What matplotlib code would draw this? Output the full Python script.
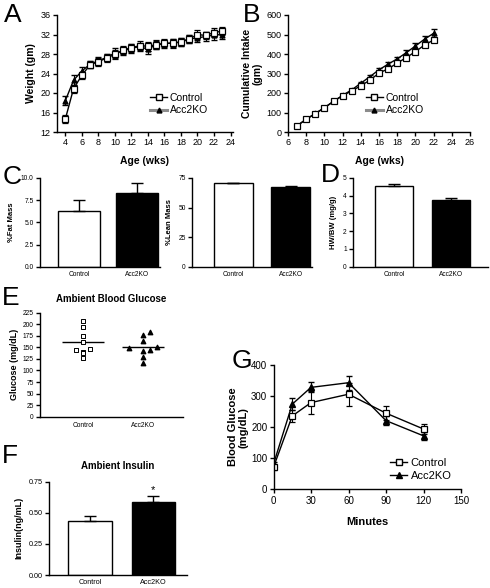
import numpy as np
import matplotlib.pyplot as plt
from matplotlib.lines import Line2D

plt.rcParams['font.family'] = ['Liberation Sans', 'DejaVu Sans']

# --- data ---
groups = ['Control', 'Acc2KO']

# A: body weight
weeks_a = [4, 5, 6, 7, 8, 9, 10, 11, 12, 13, 14, 15, 16, 17, 18, 19, 20, 21, 22, 23]
wt_ctrl = [14.6, 20.9, 23.6, 25.8, 26.4, 27.2, 27.9, 28.8, 29.3, 29.7, 29.6, 29.9, 30.2, 30.2, 30.5, 31.1, 32.0, 31.8, 32.4, 32.7]
wt_ctrl_err = [0.8, 0.8, 0.8, 0.7, 0.8, 0.8, 0.9, 0.9, 0.8, 0.9, 0.9, 0.9, 0.8, 0.9, 0.8, 0.8, 0.9, 0.8, 0.9, 0.9]
wt_ko = [18.4, 22.6, 24.5, 25.9, 26.6, 27.3, 28.2, 28.6, 29.2, 29.5, 29.0, 29.9, 30.1, 30.3, 30.4, 31.1, 31.3, 31.6, 31.9, 32.0]
wt_ko_err = [0.9, 1.0, 0.8, 0.7, 0.8, 0.8, 1.0, 0.9, 0.9, 0.8, 0.9, 0.8, 0.8, 0.8, 0.8, 0.9, 0.9, 0.9, 1.0, 1.0]

# B: cumulative intake
weeks_b = [7, 8, 9, 10, 11, 12, 13, 14, 15, 16, 17, 18, 19, 20, 21, 22]
intake_ctrl = [32, 66, 94, 124, 157, 186, 211, 237, 266, 302, 324, 353, 382, 412, 446, 472]
intake_ctrl_err = [3, 3, 4, 4, 5, 5, 6, 6, 7, 8, 8, 9, 10, 10, 11, 12]
intake_ko = [32, 65, 95, 125, 157, 188, 216, 250, 284, 319, 348, 375, 407, 441, 476, 506]
intake_ko_err = [3, 3, 4, 4, 5, 5, 6, 7, 8, 10, 11, 12, 13, 15, 17, 20]

# C: body composition
fat_mass = [6.3, 8.3]
fat_err = [1.2, 1.1]
lean_mass = [70.5, 67.7]
lean_err = [0.6, 0.7]

# D: heart weight / body weight
hw_bw = [4.55, 3.77]
hw_bw_err = [0.12, 0.12]

# E: ambient blood glucose (individual animals)
gluc_ctrl = [208, 193, 174, 161, 145, 141, 146, 137, 126]
gluc_ctrl_dx = [0, 0, 0, 0, -0.12, 0, 0.12, 0, 0]
gluc_ko = [184, 177, 164, 148, 143, 144, 150, 130, 117]
gluc_ko_dx = [0.12, 0, 0, -0.24, 0, 0.12, 0.24, 0, 0]
gluc_mean = [161, 150]

# F: ambient insulin
insulin = [0.435, 0.585]
insulin_err = [0.035, 0.045]

# G: glucose tolerance test
gtt_min = [0, 15, 30, 60, 90, 120]
gtt_ctrl = [71, 236, 279, 306, 245, 194]
gtt_ctrl_err = [8, 19, 37, 37, 22, 17]
gtt_ko = [81, 274, 328, 343, 221, 172]
gtt_ko_err = [8, 20, 16, 23, 14, 14]

W, H = 490, 588
fig = plt.figure(figsize=(W / 100, H / 100), dpi=100)


def px_axes(l, t, r, b):
    ax = fig.add_axes([l / W, 1 - b / H, (r - l) / W, (b - t) / H])
    for s in ['top', 'right']:
        ax.spines[s].set_visible(False)
    for s in ['left', 'bottom']:
        ax.spines[s].set_linewidth(1.0)
    ax.tick_params(direction='out', length=3, width=1, pad=1.5)
    return ax


def letter(x, y, s):
    fig.text(x / W, 1 - y / H, s, fontsize=19, va='top', ha='left')


bold = dict(fontweight='bold')

# --- A ---
ax = px_axes(57, 15, 233, 132)
ax.errorbar(weeks_a, wt_ko, yerr=wt_ko_err, color='black', marker='^', ms=3.5,
            mfc='black', lw=1, capsize=2, elinewidth=0.8)
ax.errorbar(weeks_a, wt_ctrl, yerr=wt_ctrl_err, color='black', marker='s', ms=3.8,
            mfc='white', mec='black', mew=0.9, lw=1, capsize=2, elinewidth=0.8)
ax.set_xlim(3, 24.3)
ax.set_ylim(12, 36)
ax.set_xticks(range(4, 25, 2))
ax.set_yticks(range(12, 37, 4))
ax.tick_params(labelsize=6.5)
ax.set_xlabel('Age (wks)', fontsize=7.5, labelpad=6, **bold)
ax.set_ylabel('Weight (gm)', fontsize=7.5, labelpad=3, **bold)
h_ctrl = Line2D([], [], color='black', lw=1, marker='s', ms=3.8, mfc='white', mec='black')
h_ko = Line2D([], [], color='0.55', lw=2.2, marker='^', ms=3.5, mfc='black', mec='black')
ax.legend([h_ctrl, h_ko], groups, loc='upper left', bbox_to_anchor=(0.5, 0.38),
          frameon=False, fontsize=7.5, handlelength=1.6, handletextpad=0.3,
          labelspacing=0.25, borderpad=0)
letter(4, 3, 'A')

# --- B ---
ax = px_axes(288, 15, 470, 132)
ax.errorbar(weeks_b, intake_ko, yerr=intake_ko_err, color='black', marker='^', ms=3.5,
            mfc='black', lw=1, capsize=2, elinewidth=0.8)
ax.errorbar(weeks_b, intake_ctrl, yerr=intake_ctrl_err, color='black', marker='s', ms=3.8,
            mfc='white', mec='black', mew=0.9, lw=1, capsize=2, elinewidth=0.8)
ax.set_xlim(6, 26)
ax.set_ylim(0, 600)
ax.set_xticks(range(6, 27, 2))
ax.set_yticks(range(0, 601, 100))
ax.tick_params(labelsize=6.5)
ax.set_xlabel('Age (wks)', fontsize=7.5, labelpad=6, **bold)
ax.set_ylabel('Cumulative Intake\n(gm)', fontsize=7.5, labelpad=3, linespacing=1.0, **bold)
ax.legend([h_ctrl, h_ko], groups, loc='upper left', bbox_to_anchor=(0.4, 0.38),
          frameon=False, fontsize=7.5, handlelength=1.6, handletextpad=0.3,
          labelspacing=0.25, borderpad=0)
letter(243, 3, 'B')


def bar_panel(box, vals, errs, width, xlim, ylim, yticks, fmt, ylabel, fs=4.8):
    ax = px_axes(*box)
    x = np.arange(len(vals))
    ax.bar(x, vals, width=width, color=['white', 'black'], edgecolor='black', lw=1)
    ax.errorbar(x, vals, yerr=[[0] * len(vals), errs], fmt='none', ecolor='black',
                elinewidth=1, capsize=4, capthick=1)
    ax.set_xlim(*xlim)
    ax.set_ylim(*ylim)
    ax.set_xticks(x)
    ax.set_xticklabels(groups)
    ax.tick_params(axis='x', length=0, pad=3)
    ax.set_yticks(yticks)
    ax.set_yticklabels([fmt.format(v) for v in yticks])
    ax.tick_params(labelsize=fs)
    ax.set_ylabel(ylabel, fontsize=5.5, labelpad=4, **bold)
    return ax


# --- C ---
bar_panel((40, 178, 160, 266.7), fat_mass, fat_err, 0.72, (-0.67, 1.4), (0, 10),
          [0, 2.5, 5, 7.5, 10], '{:.1f}', '%Fat Mass')
bar_panel((192, 178, 312, 266.7), lean_mass, lean_err, 0.68, (-0.72, 1.37), (0, 75),
          [0, 25, 50, 75], '{:.0f}', '%Lean Mass')
letter(3, 165, 'C')

# --- D ---
bar_panel((353, 178, 488, 266.7), hw_bw, hw_bw_err, 0.67, (-0.72, 1.65), (0, 5),
          [0, 1, 2, 3, 4, 5], '{:.0f}', 'HW/BW (mg/g)')
letter(321, 163, 'D')

# --- E ---
ax = px_axes(40, 312.7, 183, 416.7)
ax.scatter(np.array(gluc_ctrl_dx), gluc_ctrl, marker='s', s=9, facecolor='white',
           edgecolor='black', lw=0.7, zorder=3)
ax.scatter(1 + np.array(gluc_ko_dx), gluc_ko, marker='^', s=10, color='black', zorder=3)
for i, m in enumerate(gluc_mean):
    ax.hlines(m, i - 0.35, i + 0.35, color='black', lw=1)
ax.set_xlim(-0.72, 1.67)
ax.set_ylim(0, 225)
ax.set_yticks(range(0, 226, 25))
ax.set_xticks([0, 1])
ax.set_xticklabels(groups)
ax.tick_params(axis='x', length=0, pad=4)
ax.tick_params(labelsize=4.8)
ax.set_ylabel('Glucose (mg/dL)', fontsize=6.5, labelpad=3, **bold)
ax.set_title('Ambient Blood Glucose', fontsize=7, pad=8, **bold)
letter(2, 286, 'E')

# --- F ---
ax = bar_panel((49, 481.5, 187, 575), insulin, insulin_err, 0.69, (-0.65, 1.53), (0, 0.75),
               [0, 0.25, 0.5, 0.75], '{:.2f}', 'Insulin(ng/mL)', fs=5.2)
ax.yaxis.label.set_size(6.5)
ax.text(1, insulin[1] + insulin_err[1] + 0.01, '*', ha='center', va='bottom', fontsize=8)
ax.set_title('Ambient Insulin', fontsize=7, pad=9, **bold)
letter(2, 444, 'F')

# --- G ---
ax = px_axes(273.5, 365, 461, 489.3)
ax.errorbar(gtt_min, gtt_ko, yerr=gtt_ko_err, color='black', marker='^', ms=4,
            mfc='black', lw=1, capsize=2.5, elinewidth=0.8)
ax.errorbar(gtt_min, gtt_ctrl, yerr=gtt_ctrl_err, color='black', marker='s', ms=4.2,
            mfc='white', mec='black', mew=0.9, lw=1, capsize=2.5, elinewidth=0.8)
ax.set_xlim(0, 150)
ax.set_ylim(0, 400)
ax.set_xticks(range(0, 151, 30))
ax.set_yticks(range(0, 401, 100))
ax.tick_params(labelsize=7)
ax.set_xlabel('Minutes', fontsize=8, labelpad=8, **bold)
ax.set_ylabel('Blood Glucose\n(mg/dL)', fontsize=8, labelpad=2, linespacing=1.0, **bold)
h_ctrl_g = Line2D([], [], color='black', lw=1, marker='s', ms=4.2, mfc='white', mec='black')
h_ko_g = Line2D([], [], color='black', lw=1, marker='^', ms=4, mfc='black')
ax.legend([h_ctrl_g, h_ko_g], groups, loc='lower right', bbox_to_anchor=(0.98, 0.02),
          frameon=False, fontsize=8, handlelength=1.6, handletextpad=0.3,
          labelspacing=0.3, borderpad=0)
letter(232, 349, 'G')

fig.savefig('out.png', dpi=100)
